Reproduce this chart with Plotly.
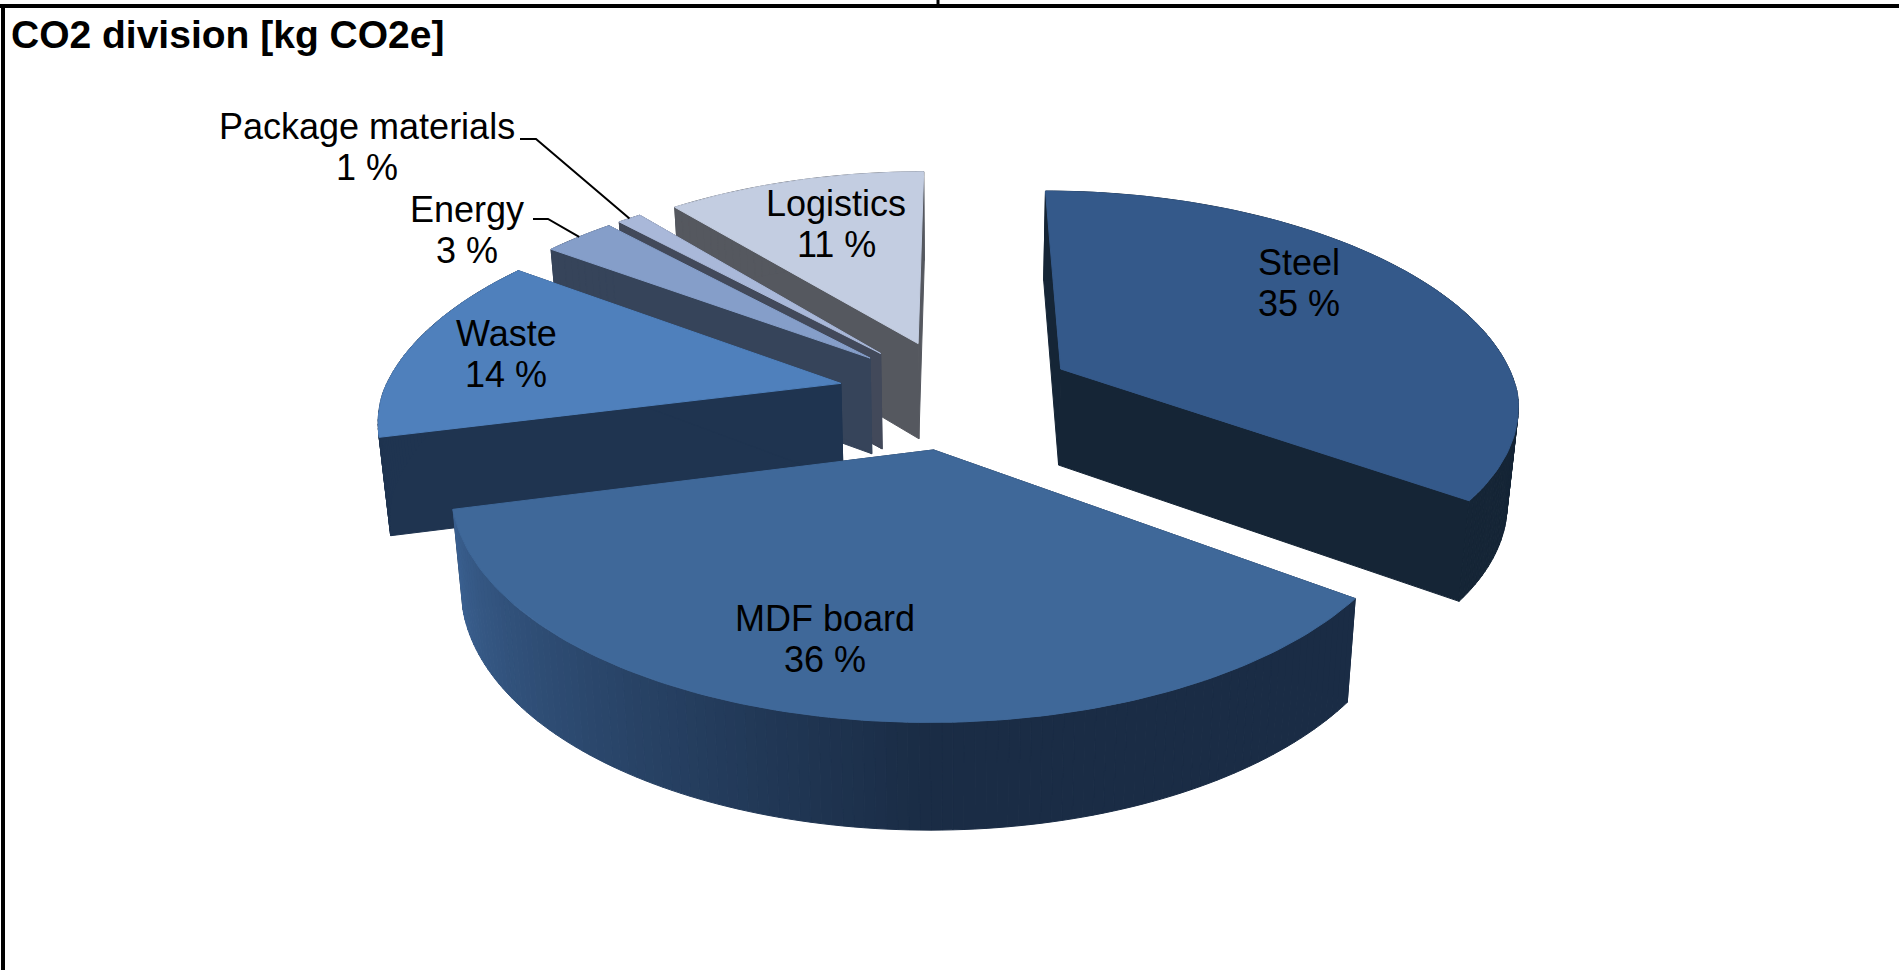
import math
import plotly.graph_objects as go

# Data
categories = ["Steel", "MDF board", "Waste", "Energy", "Package materials", "Logistics"]
values = [35, 36, 14, 3, 1, 11]
title_text = "CO2 division [kg CO2e]"

# Styles
top_colors = ["#34598a", "#3f6899", "#4f80bc", "#859ec9", "#a9b8d9", "#c3cde1"]
wall_colors = ["#152536", "#1a2c45", "#1f3450", "#36445a", "#42495a", "#55585f"]
draw_order = [5, 0, 4, 3, 2, 1]
label_pos = [(1299, 283), (825, 639), (506, 354), (467, 230), (367, 147), (836, 224)]

W, H = 1899, 970
F = W / 1568
CX, CY = 790 * F, 325 * F
RX, A, QY = 378 * F, 175 * F, 0.152
QX_BACK, QX_FRONT = 0.175, 0.150
DEPTH = 80 * F
EXPLODE = 0.26
CONVERGE = 0.02
LINE_GAP = 41


def proj(X, Y, z=0.0):
    sx = 1 / (1 + (QX_BACK if Y > 0 else QX_FRONT) * Y)
    sy = 1 / (1 + QY * Y)
    return (CX + RX * X * sx * (1 - CONVERGE * z / DEPTH),
            CY - A * Y * sy + z * math.sqrt(sy))


def mix(c1, c2, t):
    a = [int(c1[i:i + 2], 16) for i in (1, 3, 5)]
    b = [int(c2[i:i + 2], 16) for i in (1, 3, 5)]
    return "rgb(%d,%d,%d)" % tuple(round(p + (q - p) * t) for p, q in zip(a, b))


def poly(points, color):
    xs = [p[0] for p in points] + [points[0][0]]
    ys = [p[1] for p in points] + [points[0][1]]
    return go.Scatter(x=xs, y=ys, mode="lines", fill="toself", fillcolor=color,
                      line=dict(color=color, width=1), hoverinfo="skip", showlegend=False)


total = sum(values)
starts, ends = [], []
acc = 0
for v in values:
    starts.append(acc / total * 2 * math.pi)
    acc += v
    ends.append(acc / total * 2 * math.pi)

fig = go.Figure()
leader_tips = {}
for i in draw_order:
    a0, a1 = starts[i], ends[i]
    mid = (a0 + a1) / 2
    ox, oy = EXPLODE * math.sin(mid), EXPLODE * math.cos(mid)
    n = max(4, int((a1 - a0) / 0.02))
    arc = [(ox + math.sin(a0 + (a1 - a0) * k / n), oy + math.cos(a0 + (a1 - a0) * k / n))
           for k in range(n + 1)]
    # radial walls
    for end in (arc[0], arc[-1]):
        fig.add_trace(poly([proj(ox, oy), proj(*end), proj(*end, DEPTH), proj(ox, oy, DEPTH)],
                           wall_colors[i]))
    # outer wall, shaded along the arc
    for k in range(n):
        t = k / max(1, n - 1)
        if i == 1:  # MDF board wall: dark on the right, lighter towards the left
            col = wall_colors[1] if t < 0.42 else mix(wall_colors[1], "#3a6090", (t - 0.42) / 0.58)
        else:
            col = wall_colors[i]
        fig.add_trace(poly([proj(*arc[k]), proj(*arc[k + 1]),
                            proj(*arc[k + 1], DEPTH), proj(*arc[k], DEPTH)], col))
    # top face
    fig.add_trace(poly([proj(ox, oy)] + [proj(*p) for p in arc], top_colors[i]))
    leader_tips[i] = proj(ox + math.sin(mid), oy + math.cos(mid))

# Leader lines
for i, (sx0, sx1, sy) in {4: (520, 536, 139), 3: (533, 548, 219)}.items():
    tip = leader_tips[i]
    fig.add_trace(go.Scatter(x=[sx0, sx1, tip[0]], y=[sy, sy, tip[1]], mode="lines",
                             line=dict(color="#000000", width=2), hoverinfo="skip", showlegend=False))

# Labels
label_font = dict(family="Liberation Sans, Arial", size=36, color="#000000")
for name, v, (lx, ly) in zip(categories, values, label_pos):
    fig.add_annotation(x=lx, y=ly - LINE_GAP / 2, text=name, showarrow=False, xref="x", yref="y", font=label_font)
    fig.add_annotation(x=lx, y=ly + LINE_GAP / 2, text=f"{v} %", showarrow=False, xref="x", yref="y", font=label_font)

fig.add_annotation(x=9, y=34, text=f"<b>{title_text}</b>", showarrow=False, xref="x", yref="y",
                   xanchor="left", font=dict(family="Liberation Sans, Arial", size=39, color="#000000"))

# Page frame
frame = dict(color="#000000", width=4)
fig.add_shape(type="line", x0=0, x1=W, y0=6, y1=6, line=frame, xref="x", yref="y")
fig.add_shape(type="line", x0=3, x1=3, y0=6, y1=H, line=frame, xref="x", yref="y")
fig.add_shape(type="line", x0=938, x1=938, y0=0, y1=6, line=dict(color="#000000", width=3), xref="x", yref="y")

fig.update_layout(width=W, height=H, margin=dict(l=0, r=0, t=0, b=0),
                  paper_bgcolor="#ffffff", plot_bgcolor="#ffffff", showlegend=False,
                  xaxis=dict(range=[0, W], visible=False, fixedrange=True),
                  yaxis=dict(range=[H, 0], visible=False, fixedrange=True))
fig.write_html("out.html", config={"displayModeBar": False},
               post_script="document.body.style.margin='0';")
